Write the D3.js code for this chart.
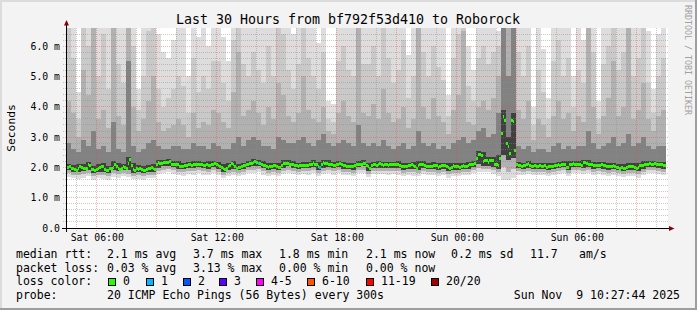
<!DOCTYPE html>
<html><head><meta charset="utf-8">
<script src="https://cdn.jsdelivr.net/npm/d3@7"></script>
<style>
html,body{margin:0;padding:0;background:#f3f3f3;}
svg{display:block;}
text{font-family:"DejaVu Sans Mono",monospace;white-space:pre;}
</style></head><body>
<svg id="chart" width="697" height="310"></svg>
<script>
const title = "Last 30 Hours from bf792f53d410 to Roborock";
const yAxisLabel = "Seconds";
const credit = "RRDTOOL / TOBI OETIKER";
const startTime = "2025-11-08T04:27:44";
const endTime = "2025-11-09T10:27:44";
const smokeStepMinutes = 15;
const medianStepMinutes = 5;
const yMax = 6.6;
const yTickValues = [0, 1, 2, 3, 4, 5, 6];
const xTickTimes = ["2025-11-08T06:00:00","2025-11-08T12:00:00","2025-11-08T18:00:00","2025-11-09T00:00:00","2025-11-09T06:00:00"];

// smoke: sorted ping levels per 15-minute column (ms)
const pingMax = [
7,7,4.5,7,7,7,7,7,7,7, 7,7,7,7,4.6,7,7,7,6.4,5.8,
5.6,6.2,7,7,5.0,7,6.3,7,6.0,7, 7,6.3,5.5,7,7,7,7,7,7,7,
7,7,7,7,7,6.4,7,7,7,7, 6.1,7,4.2,4.1,7,7,7,7,7,7,
7,7,7,7,7,7,7,7,5.7,7, 7,7,7,7,7,7,4.4,7,7,7,
6.0,5.2,7,7,7,7,6.5,7,7,7, 7,7,7,4.0,7,5.9,4.3,7,7,7,
7,5.0,7,6.2,7,7,4.2,7,7,7, 7,7,7,7,7,7,6.5,4.6,6.4,7];
const pingP95 = [
7,5.6,3.6,7,6.0,7,5.0,6.4,4.6,7, 5.4,4.8,7,6.0,3.9,5.0,6.5,7,4.6,4.0,
4.3,4.6,5.0,4.7,3.8,5.6,4.5,5.0,4.6,5.5, 5.5,4.8,4.2,6.2,7,5.4,5.0,5.8,5.2,4.8,
6.0,5.0,7,6.4,5.2,4.6,5.4,7,5.6,5.0, 4.6,5.8,3.6,3.5,5.5,6.0,5.2,5.0,7,5.4,
5.4,6.0,5.0,7,5.6,4.8,5.2,6.2,4.3,5.0, 7,5.8,5.0,6.0,5.3,4.9,3.7,5.6,6.4,7,
4.7,4.2,5.6,6.0,5.4,5.8,6.0,7,7,7, 5.8,5.0,6.0,3.4,5.2,4.5,3.6,5.5,6.2,5.0,
5.6,4.0,5.2,4.8,7,5.8,3.6,5.4,6.0,7, 5.2,5.8,7,5.0,5.6,7,4.8,3.8,5.0,5.6];
const pingP85 = [
4.2,3.8,3.0,5.2,4.4,7,3.6,3.9,3.3,7, 3.7,3.4,7,4.0,3.2,3.6,4.2,5.0,3.5,3.2,
3.3,3.4,3.6,3.4,3.0,3.8,3.3,3.5,3.4,3.9, 3.8,3.5,3.3,4.5,5.8,3.7,3.9,4.2,3.8,3.4,
4.0,3.6,4.8,4.4,3.7,3.5,3.8,5.0,3.9,3.6, 3.5,4.0,3.2,3.1,3.8,4.2,3.7,3.5,7,3.8,
3.7,4.1,3.6,4.6,3.8,3.5,3.6,4.0,3.3,3.6, 7,4.0,3.6,4.3,3.7,3.5,3.1,3.9,4.4,6.5,
3.5,3.4,4.0,4.2,3.9,4.3,5.0,7,7,7, 3.9,3.6,4.2,2.9,3.6,3.4,3.0,3.7,4.2,3.6,
3.8,3.2,3.7,3.5,7,4.0,3.1,3.7,4.3,5.5, 3.7,4.0,6.6,3.6,3.9,4.8,3.6,3.2,3.7,3.9];
const pingP70 = [
2.8,2.6,2.5,2.9,2.7,3.2,2.6,2.7,2.5,3.5, 2.6,2.5,5.5,2.7,2.5,2.6,2.8,2.9,2.7,2.6,
2.6,2.7,2.7,2.6,2.6,2.8,2.7,2.7,2.6,2.8, 2.7,2.6,2.6,2.8,3.0,2.7,2.9,3.0,2.9,2.7,
2.7,2.6,3.0,2.9,2.8,2.8,2.9,3.0,2.8,2.7, 2.9,3.1,2.8,2.7,2.8,2.9,2.8,2.7,3.4,2.8,
2.7,2.8,2.7,2.9,2.7,2.6,2.7,2.8,2.6,2.7, 3.2,2.8,2.7,2.8,2.6,2.7,2.6,2.8,2.9,3.0,
2.8,2.9,3.2,3.3,3.0,3.1,3.8,7,5.0,7, 2.7,2.6,2.7,2.5,2.6,2.6,2.5,2.7,2.8,2.6,
2.7,2.6,2.7,2.7,3.2,2.8,2.6,2.7,2.8,3.0, 2.7,2.8,3.1,2.7,2.8,3.0,2.7,2.6,2.7,2.7];
const pingP60 = [
2.12,2.08,2.12,2.10,2.18,2.04,2.10,2.14,2.06,2.20, 2.14,2.12,2.35,2.15,2.07,2.03,2.08,2.10,2.25,2.26,
2.28,2.20,2.20,2.16,2.19,2.20,2.20,2.18,2.20,2.22, 2.18,2.10,2.16,2.22,2.10,2.16,2.22,2.28,2.25,2.20,
2.14,2.16,2.13,2.23,2.23,2.20,2.16,2.17,2.18,2.25, 2.18,2.25,2.24,2.19,2.22,2.18,2.14,2.16,2.20,2.23,
2.15,2.18,2.22,2.19,2.18,2.19,2.21,2.13,2.16,2.18, 2.20,2.20,2.14,2.17,2.15,2.16,2.14,2.15,2.13,2.15,
2.18,2.22,2.55,2.50,2.35,2.33,2.40,3.90,3.00,3.80, 2.18,2.15,2.22,2.15,2.15,2.15,2.14,2.15,2.18,2.20,
2.20,2.22,2.21,2.25,2.24,2.18,2.17,2.18,2.14,2.15, 2.10,2.10,2.14,2.13,2.15,2.20,2.22,2.22,2.19,2.18];
const pingP40 = [
1.90,1.86,1.84,1.88,1.90,1.82,1.86,1.86,1.82,1.90, 1.88,1.90,1.90,1.82,1.84,1.80,1.86,1.86,1.98,2.04,
2.06,2.00,1.96,1.94,1.98,1.98,2.00,1.97,1.96,2.00, 1.96,1.85,1.90,1.94,1.90,1.95,2.00,2.04,2.05,1.97,
1.91,1.96,1.92,1.98,2.03,1.97,1.96,1.98,1.97,2.01, 1.92,1.99,2.00,1.97,2.00,1.96,1.94,1.93,2.00,2.03,
1.89,1.98,1.99,1.98,1.97,1.99,1.97,1.93,1.94,1.94, 1.90,1.98,1.94,1.96,1.92,1.96,1.87,1.92,1.91,1.94,
1.96,2.02,2.10,2.05,2.05,2.00,1.96,2.40,2.25,2.30, 1.97,1.96,1.98,1.95,1.95,1.95,1.92,1.95,1.98,2.00,
1.92,2.02,2.00,1.99,2.00,1.96,1.97,1.96,1.93,1.95, 1.90,1.88,1.92,1.91,1.87,1.96,2.02,2.02,1.99,1.96];
const pingP20 = [
1.80,1.76,1.74,1.78,1.80,1.72,1.76,1.75,1.71,1.80, 1.77,1.80,1.79,1.72,1.74,1.70,1.76,1.75,1.88,1.93,
1.95,1.90,1.86,1.84,1.88,1.88,1.90,1.87,1.86,1.90, 1.86,1.76,1.80,1.84,1.80,1.85,1.90,1.93,1.95,1.87,
1.81,1.86,1.82,1.88,1.93,1.87,1.86,1.88,1.87,1.91, 1.82,1.89,1.90,1.87,1.90,1.86,1.84,1.83,1.90,1.93,
1.79,1.88,1.89,1.88,1.87,1.89,1.87,1.83,1.84,1.84, 1.80,1.88,1.84,1.86,1.82,1.86,1.77,1.82,1.81,1.84,
1.86,1.92,1.98,1.95,1.95,1.90,1.85,2.00,1.85,1.95, 1.87,1.86,1.88,1.85,1.85,1.85,1.82,1.85,1.88,1.90,
1.82,1.92,1.90,1.89,1.90,1.86,1.87,1.86,1.83,1.85, 1.80,1.78,1.82,1.81,1.77,1.86,1.92,1.92,1.89,1.86];
const pingMin = [
1.68,1.64,1.62,1.66,1.70,1.60,1.65,1.63,1.60,1.68, 1.66,1.70,1.68,1.61,1.63,1.58,1.65,1.64,1.78,1.82,
1.84,1.79,1.75,1.73,1.78,1.76,1.80,1.76,1.75,1.80, 1.76,1.66,1.70,1.74,1.70,1.74,1.80,1.82,1.84,1.76,
1.70,1.76,1.72,1.78,1.82,1.77,1.75,1.78,1.76,1.80, 1.72,1.78,1.80,1.76,1.80,1.75,1.74,1.72,1.80,1.82,
1.68,1.78,1.78,1.77,1.76,1.78,1.76,1.72,1.74,1.73, 1.70,1.78,1.74,1.76,1.72,1.76,1.66,1.72,1.70,1.74,
1.76,1.82,1.86,1.84,1.84,1.78,1.72,1.60,1.58,1.66, 1.76,1.75,1.78,1.74,1.75,1.74,1.71,1.74,1.78,1.80,
1.72,1.82,1.80,1.78,1.80,1.75,1.77,1.75,1.72,1.74, 1.70,1.67,1.72,1.70,1.66,1.76,1.82,1.81,1.78,1.75];

// median rtt per 5-minute step (ms)
const medianRtt = [
2.00,2.00,2.02,1.98,1.96,1.92,1.90,1.95,2.02,2.00, 1.96,1.95,1.98,2.08,2.05,1.94,1.92,1.90,1.94,1.97,
2.00,2.04,2.02,1.92,1.89,1.90,1.96,1.98,2.00,2.10, 2.04,1.96,1.94,1.97,2.02,2.00,1.98,2.12,2.25,2.05,
1.92,1.89,1.95,1.92,1.97,1.93,1.90,1.89,1.94,1.98, 1.96,2.00,1.98,1.94,2.08,2.15,2.14,2.12,2.15,2.16,
2.17,2.17,2.18,2.10,2.10,2.09,2.10,2.10,2.04,2.03, 2.02,2.06,2.05,2.08,2.09,2.07,2.10,2.08,2.10,2.09,
2.10,2.08,2.07,2.06,2.10,2.06,2.05,2.08,2.10,2.12, 2.08,2.06,2.04,2.00,1.95,1.93,1.98,2.04,2.06,2.12,
2.10,2.02,1.98,1.99,2.00,2.03,2.05,2.06,2.08,2.10, 2.12,2.12,2.17,2.18,2.15,2.14,2.14,2.10,2.06,2.05,
2.04,1.99,2.02,2.04,2.06,2.05,2.03,2.00,2.01,2.06, 2.13,2.13,2.12,2.13,2.11,2.10,2.08,2.05,2.06,2.04,
2.05,2.06,2.07,2.07,2.06,2.05,2.08,2.10,2.15,2.10, 2.08,2.04,2.00,2.08,2.15,2.14,2.14,2.10,2.08,2.09,
2.07,2.06,2.08,2.10,2.12,2.08,2.05,2.06,2.04,2.03, 2.03,2.02,2.03,2.06,2.08,2.10,2.09,2.11,2.12,2.13,
2.05,2.04,1.97,2.06,2.08,2.08,2.07,2.10,2.12,2.08, 2.07,2.09,2.08,2.06,2.08,2.09,2.08,2.09,2.10,2.11,
2.06,2.03,2.02,2.02,2.03,2.05,2.06,2.08,2.07,2.03, 1.98,2.05,2.10,2.09,2.10,2.06,2.03,2.04,2.02,2.04,
2.06,2.07,2.05,2.00,2.03,2.06,2.05,2.06,2.04,2.00, 1.95,2.00,2.05,2.04,2.03,2.02,1.99,2.02,2.05,2.03,
2.04,2.06,2.08,2.10,2.10,2.12,2.30,2.42,2.43,2.40, 2.20,2.24,2.23,2.15,2.24,2.22,2.23,2.10,2.08,2.06,
2.30,3.13,3.67,3.56,2.80,2.68,2.47,3.56,3.50,2.57, 2.08,2.06,2.06,2.04,2.05,2.05,2.08,2.12,2.06,2.04,
2.03,2.05,2.04,2.03,2.05,2.04,2.03,2.05,2.00,2.03, 2.04,2.03,2.03,2.05,2.06,2.08,2.07,2.09,2.10,2.08,
2.00,2.01,2.10,2.11,2.12,2.10,2.11,2.08,2.08,2.07, 2.15,2.15,2.14,2.08,2.09,2.08,2.06,2.05,2.06,2.07,
2.07,2.08,2.07,2.05,2.04,2.02,2.03,2.04,2.05,2.04, 2.00,1.99,1.98,2.00,1.97,1.97,2.00,2.03,2.04,2.03,
2.03,2.00,1.95,2.01,2.05,2.06,2.05,2.10,2.10,2.11, 2.12,2.10,2.11,2.12,2.08,2.08,2.09,2.08,2.05,2.06];
// steps where packets were lost (index into medianRtt, lost pings out of 20)
const lossEvents = [{n:115, lost:1}, {n:152, lost:1}];

const lossLabels = ["0","1","2","3","4-5","6-10","11-19","20/20"];
const lossColors = ["#26ff00","#00b8ff","#0059ff","#5e00ff","#ff00ff","#ff5500","#ff0000","#a10000"];
const lossUpper = [0,1,2,3,5,10,19,20];
const rttStats = ["2.1 ms avg","3.7 ms max","1.8 ms min","2.1 ms now","0.2 ms sd","11.7","am/s"];
const lossStats = ["0.03 % avg","3.13 % max","0.00 % min","0.00 % now"];
const probeText = "20 ICMP Echo Pings (56 Bytes) every 300s";
const dateText = "Sun Nov  9 10:27:44 2025";

// ---------------- drawing ----------------
const W = 697, H = 310;
const L = 66, R = 666, T = 28, B = 228;
const svg = d3.select("#chart");
const parse = d3.timeParse("%Y-%m-%dT%H:%M:%S");
const t0 = parse(startTime), t1 = parse(endTime);
const x = d3.scaleTime().domain([t0, t1]).range([L, R]);
const y = d3.scaleLinear().domain([0, yMax]).range([B, T]);
const sStep = smokeStepMinutes * 60000, mStep = medianStepMinutes * 60000;

svg.append("rect").attr("width", W).attr("height", H).attr("fill", "#f3f3f3");
svg.append("rect").attr("x",0).attr("y",0).attr("width",W).attr("height",2).attr("fill","#dcdcdc");
svg.append("rect").attr("x",0).attr("y",0).attr("width",2).attr("height",H).attr("fill","#dcdcdc");
svg.append("rect").attr("x",0).attr("y",H-2).attr("width",W).attr("height",2).attr("fill","#9e9e9e");
svg.append("rect").attr("x",W-2).attr("y",0).attr("width",2).attr("height",H).attr("fill","#9e9e9e");

svg.append("defs").append("clipPath").attr("id","clip")
  .append("rect").attr("x",L).attr("y",T).attr("width",R-L).attr("height",B-T);
svg.append("rect").attr("x",L).attr("y",T).attr("width",R-L+2).attr("height",B-T).attr("fill","#ffffff");

const bands = [
  {hi: pingMax, lo: pingMin, color: "#dddddd"},
  {hi: pingP95, lo: pingP20, color: "#c9c9c9"},
  {hi: pingP85, lo: pingP20, color: "#b1b1b1"},
  {hi: pingP70, lo: pingP40, color: "#828282"},
  {hi: pingP60, lo: pingP40, color: "#404040"}
];
const smoke = svg.append("g").attr("clip-path","url(#clip)").attr("shape-rendering","crispEdges");
const colX = i => x(new Date(+t0 + i * sStep));
bands.forEach(b => {
  smoke.append("g").attr("fill", b.color).selectAll("rect")
    .data(b.hi.map((h, i) => ({i, h, l: b.lo[i]}))).join("rect")
    .attr("x", d => colX(d.i))
    .attr("width", d => colX(d.i + 1) - colX(d.i))
    .attr("y", d => y(d.h))
    .attr("height", d => y(d.l) - y(d.h));
});

// median line
const lossMap = new Map(lossEvents.map(e => [e.n, e.lost]));
const colorFor = lost => lossColors[lossUpper.findIndex(u => lost <= u)];
const medX = i => x(new Date(+t0 + i * mStep));
smoke.append("g").selectAll("rect").data(medianRtt.map((v, i) => ({i, v}))).join("rect")
  .attr("x", d => medX(d.i))
  .attr("width", d => medX(d.i + 1) - medX(d.i))
  .attr("y", d => Math.round(y(d.v) - 1.5))
  .attr("height", 3)
  .attr("fill", d => colorFor(lossMap.get(d.i) || 0));

// grid
const grid = svg.append("g").attr("shape-rendering","crispEdges").attr("stroke-dasharray","1,1");
const minorC = "rgba(140,140,140,0.45)", majorC = "rgba(255,60,60,0.4)";
const hGrid = d3.range(1, Math.round(yMax / 0.2) + 1).map(k => k * 0.2).filter(v => v <= yMax);
hGrid.forEach(v => {
  const major = Math.abs(v - Math.round(v)) < 1e-6;
  const py = Math.floor(y(v)) + 0.5;
  grid.append("line").attr("x1", L - 3).attr("x2", R + 3).attr("y1", py).attr("y2", py)
    .attr("stroke", major ? majorC : minorC);
});
d3.timeHour.range(t0, t1).forEach(t => {
  const major = t.getHours() % 3 === 0;
  const px = Math.floor(x(t)) + 0.5;
  grid.append("line").attr("x1", px).attr("x2", px).attr("y1", T).attr("y2", B + 3)
    .attr("stroke", major ? majorC : minorC);
});

// axes lines & arrows
const ax = svg.append("g").attr("shape-rendering","crispEdges");
ax.append("line").attr("x1", L - 4).attr("x2", R + 3).attr("y1", B + 0.5).attr("y2", B + 0.5).attr("stroke","#000");
ax.append("line").attr("x1", L + 0.5).attr("x2", L + 0.5).attr("y1", B + 4).attr("y2", T - 3).attr("stroke","#000");
svg.append("path").attr("d", `M${L - 2},${T - 2.5} L${L + 3},${T - 2.5} L${L + 0.5},${T - 8} Z`).attr("fill","#8b0000");
svg.append("path").attr("d", `M${R + 3},${B - 2} L${R + 3},${B + 3} L${R + 8.5},${B + 0.5} Z`).attr("fill","#8b0000");

// axis labels via d3 axes
const yAxis = d3.axisLeft(y).tickValues(yTickValues).tickSize(0).tickPadding(6)
  .tickFormat(v => v === 0 ? "0.0" : d3.format(".1f")(v) + " m");
const gy = svg.append("g").attr("transform", `translate(${L},0)`).call(yAxis);
gy.select(".domain").remove();
gy.selectAll("text").attr("font-family","DejaVu Sans Mono").attr("font-size","9.8px").attr("fill","#000");

const xAxis = d3.axisBottom(x).tickValues(xTickTimes.map(parse)).tickSize(0).tickPadding(6)
  .tickFormat(d3.timeFormat("%a %H:%M"));
const gx = svg.append("g").attr("transform", `translate(0,${B})`).call(xAxis);
gx.select(".domain").remove();
gx.selectAll("text").attr("font-family","DejaVu Sans Mono").attr("font-size","9.8px").attr("fill","#000");

// title & side texts
svg.append("text").attr("x", 348).attr("y", 23.5).attr("text-anchor","middle")
  .attr("font-size","13.3px").attr("fill","#000").text(title);
svg.append("text").attr("transform","translate(15,128) rotate(-90)").attr("text-anchor","middle")
  .attr("font-size","11.3px").attr("fill","#000").text(yAxisLabel);
svg.append("text").attr("transform","translate(685,5) rotate(90)").attr("text-anchor","start")
  .attr("font-size","8.3px").attr("fill","#a0a0a0").text(credit);

// legend
const lg = svg.append("g").attr("font-size","11.5px").attr("fill","#000");
const rows = [258, 271.7, 285.4, 299];
const put = (tx, px, py) => lg.append("text").attr("x", px).attr("y", py).text(tx);
put("median rtt:", 16, rows[0]);
[107, 193, 279, 366, 451, 530, 579].forEach((px, i) => put(rttStats[i], px, rows[0]));
put("packet loss:", 16, rows[1]);
[107, 193, 279, 366].forEach((px, i) => put(lossStats[i], px, rows[1]));
put("loss color:", 16, rows[2]);
const boxX = [108, 146, 183, 219, 256, 307, 366, 431];
lossLabels.forEach((lab, i) => {
  lg.append("rect").attr("x", boxX[i] + 0.5).attr("y", 278.5).attr("width", 7).attr("height", 7)
    .attr("fill", lossColors[i]).attr("stroke","#000").attr("stroke-width",1);
  put(lab, boxX[i] + 15, rows[2]);
});
put("probe:", 16, rows[3]);
put(probeText, 107, rows[3]);
lg.append("text").attr("x", 680).attr("y", rows[3]).attr("text-anchor","end").text(dateText);
</script>
</body></html>
